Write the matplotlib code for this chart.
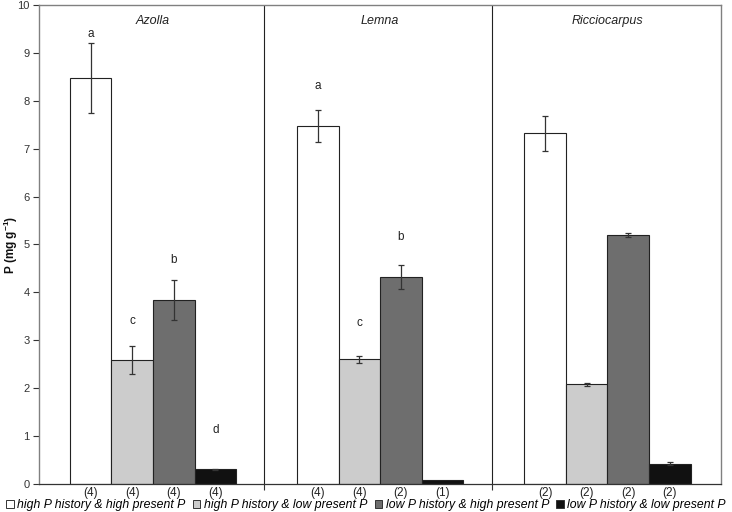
import matplotlib
matplotlib.use("Agg")
import matplotlib.pyplot as plt
from matplotlib.patches import Patch
import matplotlib.transforms as mtransforms
import numpy as np

plt.rcParams['font.family'] = ['Liberation Sans', 'DejaVu Sans']
plt.rcParams['mathtext.fontset'] = 'custom'
plt.rcParams['mathtext.rm'] = 'Liberation Sans'
plt.rcParams['mathtext.bf'] = 'Liberation Sans:bold'
plt.rcParams['mathtext.it'] = 'Liberation Sans:italic'

species = ["Azolla", "Lemna", "Ricciocarpus"]
treatments = ["high P history & high present P", "high P history & low present P",
              "low P history & high present P", "low P history & low present P"]
colors = ["#ffffff", "#cccccc", "#6e6e6e", "#111111"]

# values[treatment][species]
values = [
    [8.47, 7.48, 7.32],
    [2.59, 2.60, 2.08],
    [3.84, 4.33, 5.20],
    [0.30, 0.08, 0.42],
]
errors = [
    [0.73, 0.33, 0.36],
    [0.29, 0.07, 0.03],
    [0.42, 0.25, 0.04],
    [0.02, 0.00, 0.03],
]
n_labels = [
    ["(4)", "(4)", "(2)"],
    ["(4)", "(4)", "(2)"],
    ["(4)", "(2)", "(2)"],
    ["(4)", "(1)", "(2)"],
]
letters = [
    ["a", "a", ""],
    ["c", "c", ""],
    ["b", "b", ""],
    ["d", "", ""],
]
letter_y = [
    [9.39, 8.31, 0],
    [3.40, 3.36, 0],
    [4.68, 5.16, 0],
    [1.13, 0, 0],
]
separators = [0.987, 1.992]

fig = plt.figure(figsize=(7.32, 5.12), dpi=100)
ax = fig.add_axes([0.0537, 0.055, 0.985 - 0.0537, 0.990 - 0.055])

bw = 0.183
centers = np.arange(len(species)) + 0.5
trans = mtransforms.blended_transform_factory(ax.transData, ax.transAxes)
for t in range(4):
    xs = centers + (t - 1.5) * bw
    ax.bar(xs, values[t], width=bw, color=colors[t], edgecolor="#222222",
           linewidth=0.8, zorder=2)
    for i in range(len(species)):
        if errors[t][i] > 0:
            ax.errorbar(xs[i], values[t][i], yerr=errors[t][i], fmt="none",
                        ecolor="#333333", elinewidth=0.9, capsize=2,
                        capthick=0.9, zorder=3)
        if letters[t][i]:
            ax.text(xs[i], letter_y[t][i], letters[t][i], ha="center",
                    va="center", fontsize=8.5, color="#222222")
        ax.text(xs[i], -0.006, n_labels[t][i], transform=trans, ha="center",
                va="top", fontsize=8.5, color="#222222", clip_on=False)

for s in separators:
    ax.axvline(s, color="#222222", linewidth=0.8, zorder=1)

for i, name in enumerate(species):
    ax.text(centers[i], 9.67, name, ha="center", va="center", fontsize=9,
            style="italic", color="#222222")

ax.set_xlim(0, 3)
ax.set_ylim(0, 10)
ax.set_yticks(range(0, 11))
ax.tick_params(axis="y", direction="out", length=4, labelsize=8,
               colors="#333333", width=0.8, pad=3)
ax.set_xticks(separators)
ax.set_xticklabels([])
ax.tick_params(axis="x", direction="out", length=4, color="#333333", width=0.8)

for side in ["top", "right", "left"]:
    ax.spines[side].set_color("#808080")
    ax.spines[side].set_linewidth(1.0)
ax.spines["bottom"].set_color("#333333")
ax.spines["bottom"].set_linewidth(0.9)

ax.set_ylabel("P (mg g$^{\\mathbf{-1}}$)", fontsize=8.5, fontweight="bold",
              color="#111111")
ax.yaxis.set_label_coords(-0.029, 0.5)

handles = [Patch(facecolor=colors[t], edgecolor="#333333", linewidth=0.7,
                 label=treatments[t]) for t in range(4)]
fig.legend(handles=handles, loc="center", bbox_to_anchor=(0.5, 1 - 505 / 512),
           ncol=4, frameon=False, handlelength=0.6, handleheight=0.6,
           handletextpad=0.3, columnspacing=0.6, borderaxespad=0,
           prop={"size": 8.8, "style": "italic"})

fig.savefig("out.png", dpi=100)
